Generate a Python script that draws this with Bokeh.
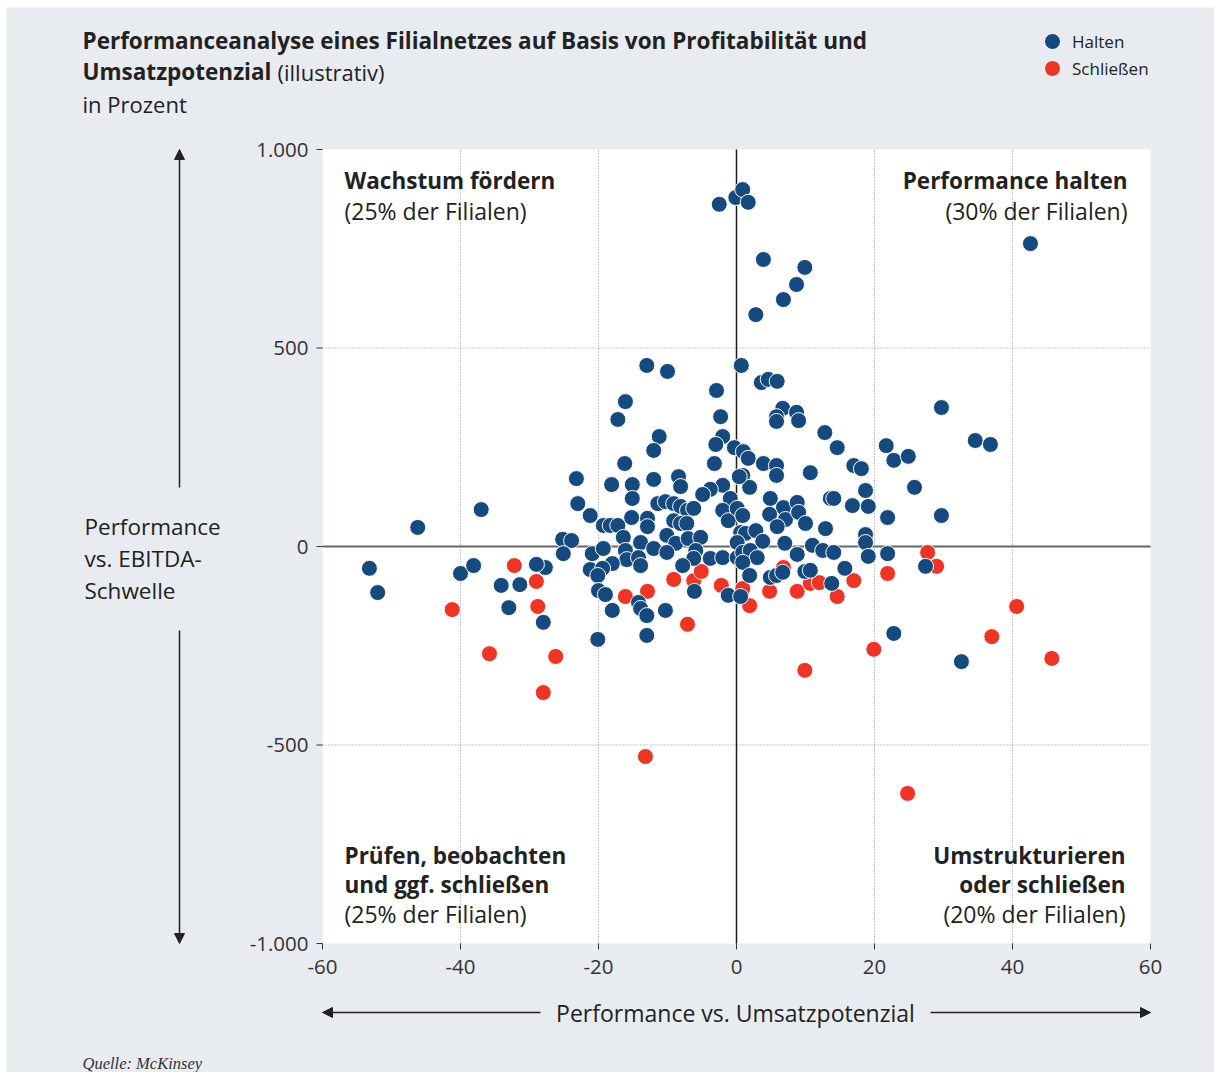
from bokeh.plotting import figure
from bokeh.models import (Label, Arrow, NormalHead, Legend, LegendItem, Range1d,
                          BoxAnnotation)
from bokeh.core.properties import value
from bokeh.embed import file_html
from bokeh.resources import INLINE

# ---------------- data ----------------
halten_x = [-2.5, -0.1, 0.9, 1.7, 3.9, 9.9, 8.7, 6.8, 2.8, 42.6,
            -13.0, -10.0, 0.7, -2.9, 3.6, 4.6, 5.9, -16.1, -17.2, -2.3,
            -2.0, -3.0, -11.2, -12.0, -16.2, -3.2, -0.3, 6.7, 5.8, 5.8,
            8.7, 9.0, 12.8, 14.6, 17.0, 18.1, 21.7, 22.8, 24.9, 25.8,
            18.7, 0.9, 1.9, 1.0, 1.7, 3.9, 5.8, 5.8, 10.7, 29.7,
            34.6, 36.8, 19.1, 21.9, 29.7, 18.7, 18.7, 19.1, 21.9, 27.4,
            22.8, 32.6, -23.2, -18.1, -15.1, -12.0, -8.4, -8.1, -2.0, 0.4,
            -3.8, -4.9, -0.9, -15.1, -23.0, -21.2, -19.3, -18.3, -17.2, -15.2,
            -12.9, -12.9, -11.4, -10.3, -9.1, -8.1, -7.1, -6.2, -9.1, -8.1,
            -7.2, -2.0, -1.2, 0.1, -16.4, -13.9, -16.1, -15.9, -14.2, -13.9,
            -12.0, -10.1, -8.8, -10.1, -7.0, -5.2, -5.9, -6.2, -3.8, -2.0,
            0.1, -25.2, -23.9, -25.1, -20.9, -19.3, -18.0, -21.2, -19.4, -20.1,
            -20.0, -19.0, -18.0, -14.2, -13.9, -13.0, -10.3, -7.8, -6.1, -1.2,
            0.6, -27.7, -28.0, 0.9, 4.9, 6.8, 8.8, 4.8, 7.1, 5.9,
            9.0, 10.0, 12.9, 13.6, 14.1, 16.8, 0.6, 1.3, 2.8, 3.8,
            0.1, 0.9, 2.0, 3.0, 0.9, 7.0, 8.8, 11.0, 12.5, 14.1,
            15.7, 1.9, 4.9, 5.8, 6.7, 9.9, 10.7, 13.8, -46.2, -37.0,
            -53.2, -52.0, -40.0, -38.1, -34.1, -31.4, -33.0, -29.0, -20.1, -13.0]
halten_y = [862, 879, 899, 867, 723, 703, 660, 622, 584, 763,
            456, 441, 456, 393, 413, 421, 416, 365, 320, 327,
            277, 257, 277, 242, 209, 209, 249, 348, 327, 315,
            338, 317, 287, 249, 204, 196, 254, 217, 227, 149,
            141, 179, 149, 239, 222, 209, 204, 179, 186, 350,
            267, 257, 101, 73, 78, 30, 10, -25, -18, -50,
            -219, -290, 171, 156, 156, 169, 176, 151, 154, 176,
            144, 131, 121, 121, 108, 78, 53, 53, 53, 73,
            71, 50, 108, 113, 108, 101, 91, 96, 65, 58,
            58, 91, 65, 96, 23, 10, -10, -33, -28, -48,
            -5, 28, 8, -15, 20, 23, -10, -30, -30, -28,
            -28, 18, 15, -18, -18, -5, -43, -58, -55, -73,
            -111, -121, -161, -141, -156, -174, -161, -48, -113, -123,
            -126, -53, -191, 78, 121, 98, 111, 81, 68, 50,
            86, 58, 45, 121, 121, 103, 35, 33, 40, 13,
            10, -15, -10, -28, -40, 8, -20, 3, -10, -15,
            -55, -73, -78, -73, -65, -63, -60, -93, 48, 93,
            -55, -116, -68, -48, -98, -96, -154, -45, -234, -224]

schliessen_x = [-13.2, 24.8, 9.9, -41.2, -32.2, -29.0, -28.8, -35.8, -28.0, -26.2,
                -16.1, -12.9, -9.1, -6.2, -5.1, -2.2, -7.1, 6.8, 0.9, 1.9,
                4.8, 8.8, 10.7, 12.0, 14.6, 17.0, 21.9, 27.7, 29.0, 40.6,
                37.0, 45.7, 19.9]
schliessen_y = [-529, -622, -312, -159, -48, -88, -151, -270, -368, -277,
                -126, -113, -83, -86, -63, -98, -196, -53, -106, -149,
                -113, -113, -93, -91, -126, -86, -68, -15, -50, -151,
                -227, -282, -259]

x_ticks = [-60, -40, -20, 0, 20, 40, 60]
x_tick_labels = ["-60", "-40", "-20", "0", "20", "40", "60"]
y_ticks = [-1000, -500, 0, 500, 1000]
y_tick_labels = ["-1.000", "-500", "0", "500", "1.000"]
x_grid = [-40, -20, 20, 40]
y_grid = [-500, 500]
x_lim = [-60, 60]
y_lim = [-1000, 1000]

series_names = ["Halten", "Schließen"]

# ---------------- style / layout ----------------
BG = "#e8ecf1"
BLUE = "#164a7e"
RED = "#ee3424"
TXT = "#222222"
FONT = "Open Sans"

W, H = 1214, 1072
FL, FR, FT, FB = 322, 1150, 149, 943   # chart area edges in canvas pixels
X0, X1 = x_lim
Y0, Y1 = y_lim


def X(px):
    return X0 + (px - FL) * (X1 - X0) / (FR - FL)


def Y(py):
    return Y1 - (py - FT) * (Y1 - Y0) / (FB - FT)


# the frame covers the whole canvas so that every text and arrow can be drawn
p = figure(width=W, height=H, x_range=Range1d(X(0), X(W)), y_range=Range1d(Y(H), Y(0)),
           output_backend="svg", toolbar_location=None,
           x_axis_location=None, y_axis_location=None,
           min_border=0, min_border_left=0, min_border_right=0,
           min_border_top=0, min_border_bottom=0,
           background_fill_color="white", border_fill_color="white",
           outline_line_color=None)
p.xgrid.visible = False
p.ygrid.visible = False

# grey panel and white chart area
p.add_layout(BoxAnnotation(left=X(6), right=X(W + 20), top=Y(7), bottom=Y(H + 20),
                           fill_color=BG, fill_alpha=1, line_color=None, level="underlay"))
p.add_layout(BoxAnnotation(left=X0, right=X1, bottom=Y0, top=Y1,
                           fill_color="white", fill_alpha=1, line_color=None, level="underlay"))

# grid (dotted)
p.segment(x0=x_grid, x1=x_grid, y0=[Y0] * len(x_grid), y1=[Y1] * len(x_grid),
          line_color="#8f8f8f", line_dash="1 2", line_width=1)
p.segment(x0=[X0] * len(y_grid), x1=[X1] * len(y_grid), y0=y_grid, y1=y_grid,
          line_color="#8f8f8f", line_dash="1 2", line_width=1)

# zero lines
p.segment(x0=[X0], x1=[X1], y0=[0], y1=[0], line_color="#666666", line_width=2)
p.segment(x0=[0], x1=[0], y0=[Y0], y1=[Y1], line_color="#1a1a1a", line_width=1.5)

# axis ticks and tick labels
p.segment(x0=[X(FL - 6)] * len(y_ticks), x1=[X0] * len(y_ticks), y0=y_ticks, y1=y_ticks,
          line_color="#333333", line_width=1)
p.segment(x0=x_ticks, x1=x_ticks, y0=[Y(FB + 6)] * len(x_ticks), y1=[Y0] * len(x_ticks),
          line_color="#333333", line_width=1)
p.text(x=[X(308)] * len(y_ticks), y=y_ticks, text=y_tick_labels,
       text_font=value(FONT), text_font_size=value("20.5px"), text_color="#333333",
       text_align="right", text_baseline="middle")
p.text(x=x_ticks, y=[Y(966)] * len(x_ticks), text=x_tick_labels,
       text_font=value(FONT), text_font_size=value("20.5px"), text_color="#333333",
       text_align="center", text_baseline="middle")

# points
r_red = p.scatter(schliessen_x, schliessen_y, size=16, fill_color=RED,
                  line_color="white", line_width=1)
r_blue = p.scatter(halten_x, halten_y, size=16, fill_color=BLUE,
                   line_color="white", line_width=1)

# legend: one entry per box so that the rows sit 27 px apart
for name, rend, top in ((series_names[0], r_blue, 21), (series_names[1], r_red, 48)):
    p.add_layout(Legend(items=[LegendItem(label=name, renderers=[rend])],
                        location=(1032, H - (top + 40)), orientation="vertical",
                        glyph_width=40, glyph_height=40, label_standoff=-1,
                        padding=0, margin=0, border_line_color=None,
                        background_fill_alpha=0,
                        label_text_font=FONT, label_text_font_size="17px",
                        label_text_color=TXT))


def lab(px, pyc, text, size, style="normal", align="left", font=FONT, color=TXT):
    # pyc: vertical centre of the capital letters, in canvas pixels
    p.add_layout(Label(x=X(px), y=Y(pyc), text=text, text_font=font,
                       text_font_size=f"{size}px", text_font_style=style,
                       text_align=align, text_baseline="alphabetic",
                       text_color=color))


# title
lab(82, 40, "Performanceanalyse eines Filialnetzes auf Basis von Profitabilität und", 22.5, "bold")
lab(82, 71, "Umsatzpotenzial", 22.5, "bold")
lab(277, 71, "(illustrativ)", 22)
lab(82, 103, "in Prozent", 22)

# quadrant labels
lab(344, 180, "Wachstum fördern", 22.5, "bold")
lab(344, 210, "(25% der Filialen)", 23)
lab(1127, 180, "Performance halten", 22.5, "bold", "right")
lab(1127, 210, "(30% der Filialen)", 23, "normal", "right")
lab(344, 855, "Prüfen, beobachten", 22.5, "bold")
lab(344, 884, "und ggf. schließen", 22.5, "bold")
lab(344, 913, "(25% der Filialen)", 23)
lab(1125, 855, "Umstrukturieren", 22.5, "bold", "right")
lab(1125, 884, "oder schließen", 22.5, "bold", "right")
lab(1125, 913, "(20% der Filialen)", 23, "normal", "right")

# axis titles
lab(84, 526, "Performance", 22.5)
lab(84, 558, "vs. EBITDA-", 22.5)
lab(84, 590, "Schwelle", 22.5)
lab(735, 1012, "Performance vs. Umsatzpotenzial", 23, "normal", "center")

# source
lab(82, 1063, "Quelle: McKinsey", 16.5, "italic", "left", "Liberation Serif", "#333333")

# arrows
AX = X(179)
for ys, ye in ((487, FT), (630, FB)):
    p.add_layout(Arrow(x_start=AX, y_start=Y(ys), x_end=AX, y_end=Y(ye),
                       end=NormalHead(size=10, fill_color=TXT, line_color=TXT),
                       line_color=TXT, line_width=1.5))
AY = Y(1012)
for xs, xe in ((540, FL), (930, FR)):
    p.add_layout(Arrow(x_start=X(xs), y_start=AY, x_end=X(xe), y_end=AY,
                       end=NormalHead(size=10, fill_color=TXT, line_color=TXT),
                       line_color=TXT, line_width=1.5))

open("out.html", "w").write(file_html(p, INLINE))
